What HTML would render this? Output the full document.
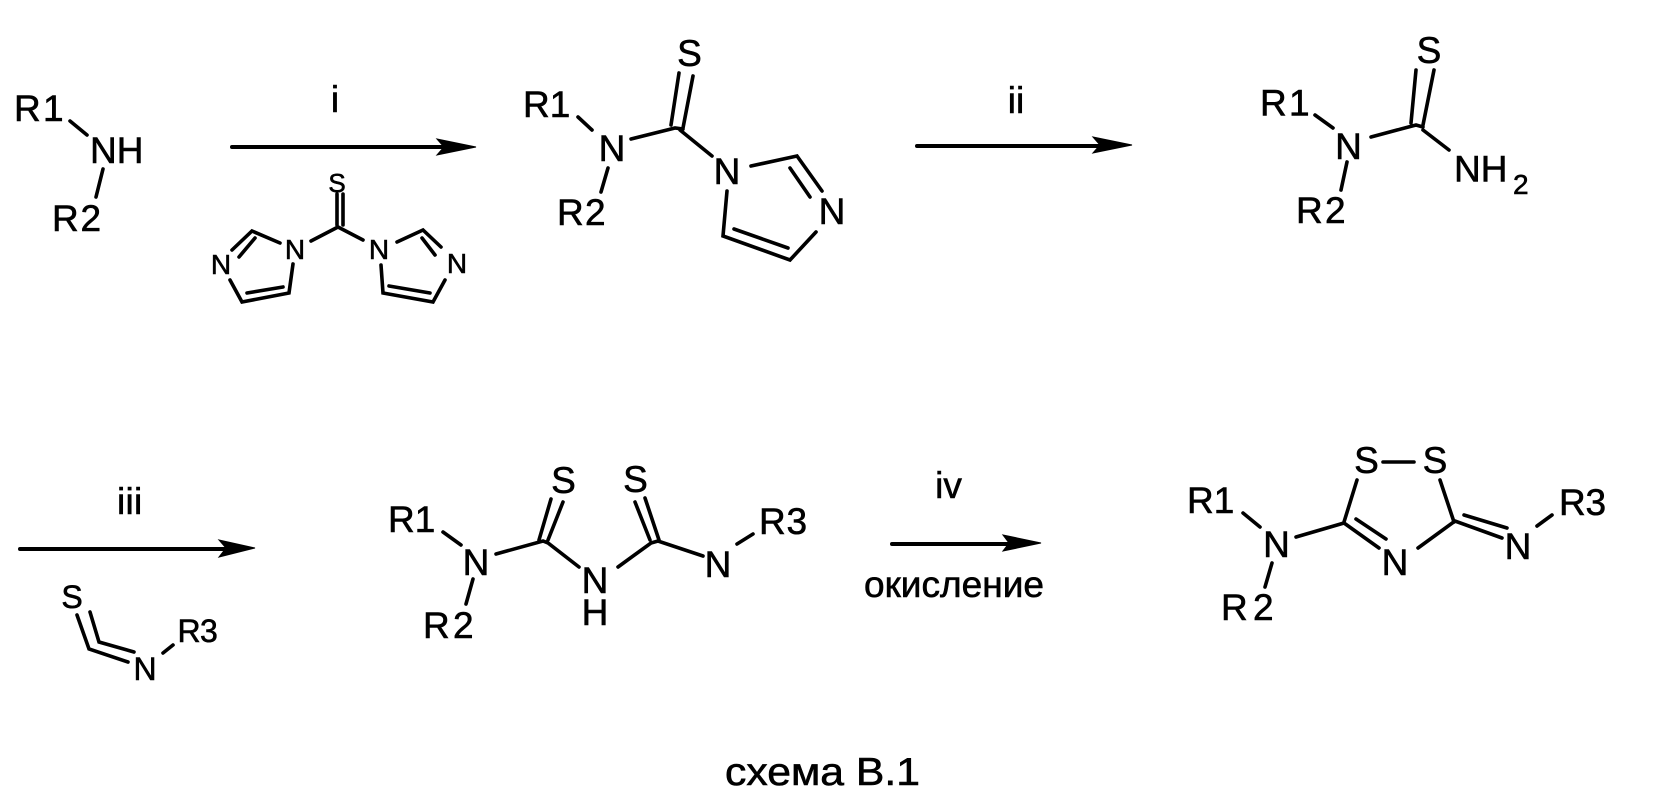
<!DOCTYPE html>
<html><head><meta charset="utf-8"><style>
html,body{margin:0;padding:0;background:#fff;width:1659px;height:807px;overflow:hidden}
svg{display:block}
text{font-family:"Liberation Sans",sans-serif;font-size:37px;fill:#000;stroke:#000;stroke-width:.6px}
.m{text-anchor:middle}
.s{font-size:26px}
.n{font-size:28px}
.t{font-size:32px}
path{fill:none;stroke:#000;stroke-width:3.6;stroke-linecap:round;stroke-linejoin:miter}
.a{stroke-width:4}
polygon{fill:#000;stroke:#000;stroke-width:1}
</style></head><body>
<svg width="1659" height="807" viewBox="0 0 1659 807" xmlns="http://www.w3.org/2000/svg">
<!-- amine -->
<text x="14 43" y="121">R1</text>
<text x="90" y="163">NH</text>
<text x="52 80.5" y="231">R2</text>
<path d="M70 121L87 135M103 169L96 197"/>
<!-- arrow i -->
<text class="m" x="335" y="112">i</text>
<path class="a" d="M232 147H445"/><polygon points="437,139 476,147 437,155 444,147"/>
<!-- TCDI -->
<text class="m s" x="337" y="192">S</text>
<path d="M337 194V225M343 194V225M338 227L311 241M338 227L363 240"/>
<text class="m n" x="295" y="259">N</text>
<text class="m n" x="221" y="274">N</text>
<text class="m n" x="379" y="259">N</text>
<text class="m n" x="457" y="273">N</text>
<path d="M280 243L252 231L232 250M255 238L239 257M230 280L242 302L289 293L293 264M247 293L283 287"/>
<path d="M397 242L423 230L441 247M422 238L435 255M445 280L433 302L383 293L381 265M389 286L430 293"/>
<!-- product 1 -->
<text class="m" x="689.5" y="66">S</text>
<text x="523" y="117">R1</text>
<text class="m" x="612" y="161">N</text>
<text x="557 585" y="225">R2</text>
<text class="m" x="727" y="184">N</text>
<text class="m" x="832" y="224">N</text>
<path d="M679 73L671 125M693 76L683 128M631 139L675 128L683 129M680 130L712 156M578 117L592 130M608 168L601 192"/>
<path d="M751 166L797 156L822 191M790 168L810 197M816 232L790 260L723 236L727 191M734 229L788 248"/>
<!-- arrow ii -->
<text class="m" x="1016" y="113">ii</text>
<path class="a" d="M917 146H1100"/><polygon points="1093,137 1132,145 1093,153 1100,145"/>
<!-- product 2 -->
<text class="m" x="1429" y="63">S</text>
<text x="1260 1289" y="115.5">R1</text>
<text class="m" x="1348.5" y="159">N</text>
<text x="1296 1325" y="223">R2</text>
<text x="1454" y="181.5">NH</text>
<text x="1513" y="194" style="font-size:28px">2</text>
<path d="M1416 70L1411 123M1434 70L1423 125M1371 137L1416 125L1423 127M1423 130L1449 150M1315 115L1333 128M1347 162L1341 190"/>
<!-- arrow iii -->
<text x="117 125.5 134" y="514">iii</text>
<path class="a" d="M20 549H226"/><polygon points="219,540 255,548 219,557 226,548"/>
<text class="m t" x="72" y="608">S</text>
<text class="m t" x="145" y="680">N</text>
<text x="177.5 200" class="t" y="642">R3</text>
<path d="M77 615L89 649L128 662M90 612L99 642L134 652M163 653L173 645"/>
<!-- dithiobiuret -->
<text x="388" y="532">R1</text>
<text class="m" x="476" y="575">N</text>
<text x="423 453" y="638">R2</text>
<text class="m" x="563.5" y="493">S</text>
<text class="m" x="635.5" y="492">S</text>
<text class="m" x="595" y="593">N</text>
<text class="m" x="595" y="625">H</text>
<text class="m" x="718" y="577">N</text>
<text x="759 786.5" y="534">R3</text>
<path d="M443 532L461 545M473 579L466 604M496 554L543 541L548 543L579 567M551 499L539 540M563 502L548 540"/>
<path d="M618 567L651 543L658 541L703 556M635 502L650 540M645 498L659 540M737 544L753 534"/>
<!-- arrow iv -->
<text class="m" x="948.5" y="498">iv</text>
<path class="a" d="M892 544H1010"/><polygon points="1003,535 1041,543 1003,551 1009,543"/>
<text x="864" y="597" textLength="180" lengthAdjust="spacingAndGlyphs">окисление</text>
<!-- dithiazole -->
<text class="m" x="1366.5" y="473">S</text>
<text class="m" x="1435" y="473">S</text>
<text x="1187" y="513">R1</text>
<text class="m" x="1276.5" y="557">N</text>
<text x="1221 1253" y="620">R2</text>
<text class="m" x="1395" y="575">N</text>
<text class="m" x="1518" y="559">N</text>
<text x="1559 1585.5" y="515">R3</text>
<path d="M1383 462H1414M1357 480L1344 522M1440 480L1454 522M1243 513L1260 527M1272 563L1265 587M1296 537L1344 523L1379 548M1356 519L1386 539"/>
<path d="M1418 548L1455 521L1502 538M1464 515L1507 528M1537 526L1552 515"/>
<!-- caption -->
<text x="725" y="785" textLength="195" lengthAdjust="spacingAndGlyphs" style="font-size:39px">схема В.1</text>
</svg>
</body></html>
